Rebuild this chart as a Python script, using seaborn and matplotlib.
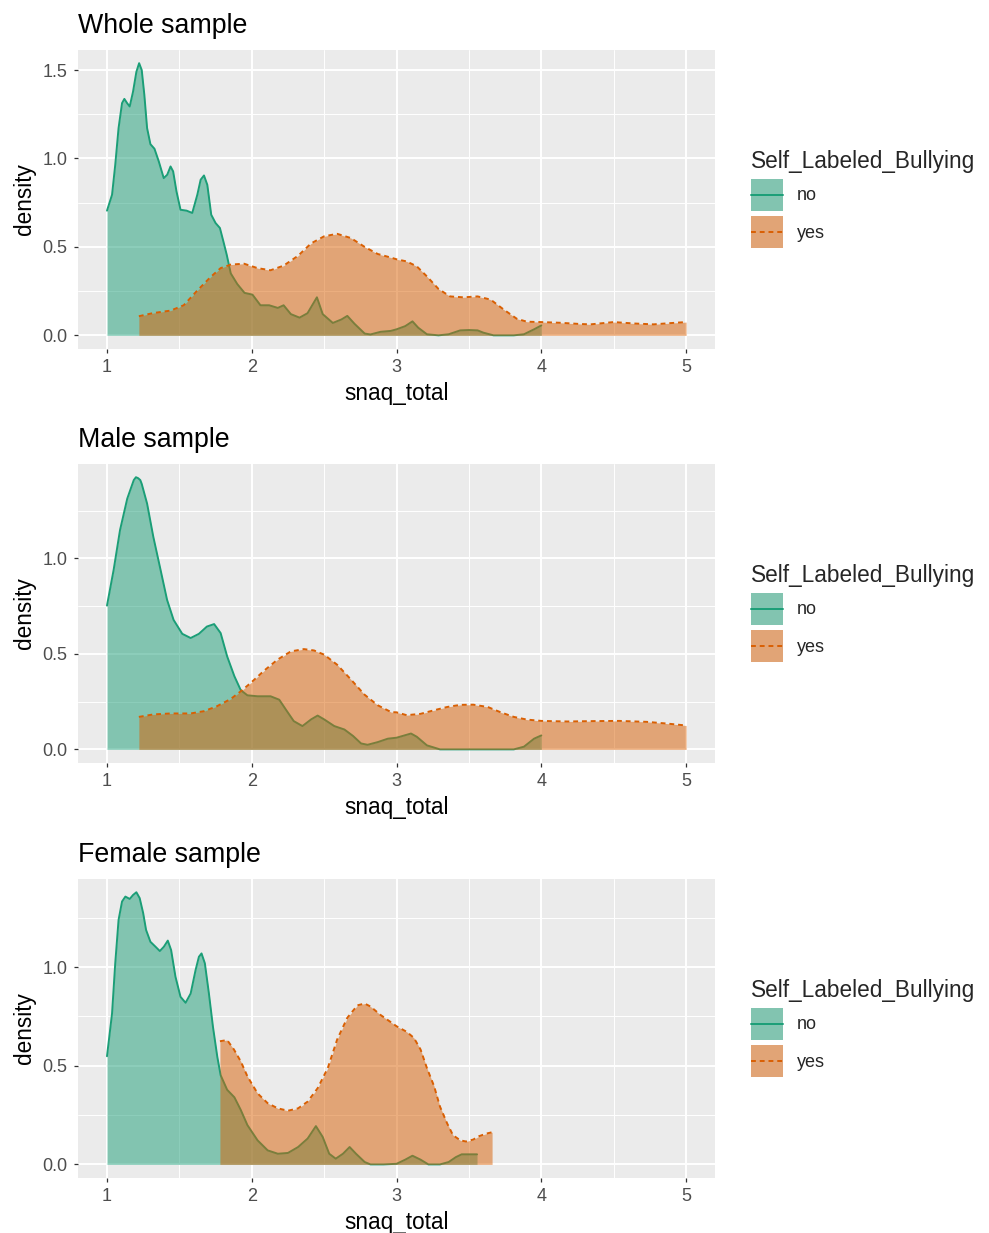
"""
Density of snaq_total by self-labeled bullying, three samples (ggplot look).
"""

import matplotlib
matplotlib.use('Agg')
import pandas as pd
import matplotlib.pyplot as plt
import seaborn as sns
from matplotlib.patches import Patch
from matplotlib.lines import Line2D
from matplotlib.legend_handler import HandlerLine2D
from matplotlib.ticker import MultipleLocator, FormatStrFormatter

# density curves
whole_no_x = [1.0, 1.035, 1.057, 1.08, 1.104, 1.12, 1.139, 1.157, 1.18, 1.203, 1.222, 1.24, 1.258, 1.277,
              1.30, 1.328, 1.358, 1.392, 1.416, 1.439, 1.457, 1.48, 1.508, 1.55, 1.589, 1.624, 1.647, 1.67,
              1.693, 1.72, 1.75, 1.78, 1.804, 1.827, 1.855, 1.90, 1.95, 2.005, 2.06, 2.12, 2.18, 2.22,
              2.27, 2.33, 2.385, 2.45, 2.49, 2.56, 2.62, 2.66, 2.71, 2.78, 2.82, 2.89, 2.96, 3.0,
              3.06, 3.11, 3.15, 3.21, 3.29, 3.36, 3.44, 3.50, 3.56, 3.60, 3.67, 3.81, 3.88, 3.95, 4.0]
whole_no_y = [0.705, 0.795, 0.964, 1.172, 1.313, 1.337, 1.313, 1.294, 1.378, 1.49, 1.539, 1.50, 1.36, 1.172,
              1.081, 1.055, 0.983, 0.889, 0.908, 0.955, 0.927, 0.814, 0.71, 0.705, 0.692, 0.795, 0.88, 0.904,
              0.851, 0.682, 0.635, 0.607, 0.531, 0.456, 0.35, 0.29, 0.24, 0.23, 0.17, 0.17, 0.155, 0.17,
              0.12, 0.10, 0.125, 0.215, 0.12, 0.07, 0.09, 0.11, 0.065, 0.01, 0.005, 0.02, 0.025, 0.034,
              0.052, 0.079, 0.043, 0.006, 0.0, 0.006, 0.028, 0.03, 0.028, 0.015, 0.0, 0.0, 0.006, 0.034, 0.056]
whole_yes_x = [1.22, 1.32, 1.44, 1.53, 1.62, 1.716, 1.785, 1.855, 1.947, 2.04, 2.13, 2.22, 2.32, 2.41,
               2.50, 2.59, 2.685, 2.78, 2.87, 2.96, 3.0, 3.07, 3.14, 3.21, 3.29, 3.37, 3.46, 3.56,
               3.65, 3.74, 3.83, 3.90, 4.0, 4.13, 4.27, 4.34, 4.50, 4.64, 4.775, 4.89, 5.0]
whole_yes_y = [0.108, 0.126, 0.14, 0.17, 0.25, 0.33, 0.38, 0.40, 0.405, 0.38, 0.368, 0.394, 0.45, 0.52,
               0.56, 0.574, 0.55, 0.50, 0.46, 0.44, 0.43, 0.418, 0.39, 0.333, 0.262, 0.22, 0.215, 0.22,
               0.202, 0.146, 0.094, 0.077, 0.075, 0.071, 0.064, 0.062, 0.075, 0.067, 0.062, 0.069, 0.075]

male_no_x = [1.0, 1.046, 1.09, 1.14, 1.185, 1.20, 1.215, 1.23, 1.24, 1.277, 1.32, 1.37, 1.415, 1.46,
             1.52, 1.578, 1.635, 1.69, 1.74, 1.785, 1.83, 1.88, 1.924, 1.97, 2.04, 2.13, 2.19, 2.235,
             2.29, 2.35, 2.41, 2.455, 2.50, 2.57, 2.64, 2.70, 2.755, 2.80, 2.87, 2.94, 3.0, 3.10,
             3.14, 3.21, 3.30, 3.53, 3.81, 3.88, 3.95, 4.0]
male_no_y = [0.753, 0.94, 1.148, 1.313, 1.41, 1.425, 1.42, 1.41, 1.39, 1.287, 1.113, 0.94, 0.783, 0.678,
             0.605, 0.583, 0.605, 0.643, 0.656, 0.609, 0.487, 0.383, 0.31, 0.283, 0.278, 0.278, 0.26, 0.209,
             0.148, 0.122, 0.157, 0.177, 0.157, 0.122, 0.104, 0.07, 0.031, 0.024, 0.038, 0.056, 0.061, 0.083,
             0.066, 0.021, 0.0, 0.0, 0.0, 0.014, 0.056, 0.073]
male_yes_x = [1.22, 1.32, 1.44, 1.578, 1.67, 1.76, 1.855, 1.924, 1.993, 2.085, 2.178, 2.27, 2.36, 2.43,
              2.50, 2.59, 2.686, 2.778, 2.87, 2.963, 3.0, 3.07, 3.166, 3.26, 3.35, 3.44, 3.53, 3.63,
              3.72, 3.81, 3.90, 4.0, 4.18, 4.36, 4.54, 4.73, 4.87, 5.0]
male_yes_y = [0.17, 0.183, 0.188, 0.188, 0.2, 0.226, 0.264, 0.304, 0.348, 0.412, 0.47, 0.513, 0.525, 0.518,
              0.496, 0.443, 0.365, 0.287, 0.231, 0.195, 0.194, 0.179, 0.186, 0.205, 0.222, 0.233, 0.234, 0.222,
              0.194, 0.17, 0.156, 0.149, 0.146, 0.148, 0.149, 0.144, 0.135, 0.125]

female_no_x = [1.0, 1.035, 1.057, 1.08, 1.104, 1.127, 1.157, 1.18, 1.203, 1.226, 1.25, 1.27, 1.30, 1.335,
               1.365, 1.393, 1.42, 1.443, 1.473, 1.508, 1.543, 1.578, 1.612, 1.635, 1.653, 1.676, 1.704, 1.732,
               1.762, 1.785, 1.83, 1.88, 1.924, 1.97, 2.04, 2.11, 2.18, 2.25, 2.32, 2.386, 2.443, 2.49,
               2.535, 2.58, 2.63, 2.676, 2.72, 2.78, 2.82, 2.91, 3.0, 3.06, 3.11, 3.166, 3.22, 3.30,
               3.36, 3.41, 3.45, 3.51, 3.556]
female_no_y = [0.548, 0.765, 1.019, 1.239, 1.332, 1.357, 1.345, 1.365, 1.379, 1.349, 1.273, 1.188, 1.128, 1.103,
               1.081, 1.103, 1.134, 1.086, 0.951, 0.849, 0.819, 0.866, 0.985, 1.052, 1.069, 1.019, 0.866, 0.697,
               0.545, 0.452, 0.378, 0.34, 0.276, 0.199, 0.122, 0.071, 0.054, 0.058, 0.088, 0.131, 0.194, 0.139,
               0.054, 0.029, 0.054, 0.088, 0.054, 0.012, 0.0, 0.0, 0.003, 0.024, 0.044, 0.024, 0.0, 0.0,
               0.012, 0.037, 0.051, 0.051, 0.051]
female_yes_x = [1.78, 1.83, 1.877, 1.924, 1.97, 2.04, 2.11, 2.18, 2.25, 2.32, 2.386, 2.455, 2.525, 2.59,
                2.66, 2.73, 2.78, 2.82, 2.89, 2.96, 3.0, 3.07, 3.12, 3.166, 3.21, 3.26, 3.30, 3.35,
                3.39, 3.44, 3.48, 3.53, 3.57, 3.62, 3.66]
female_yes_y = [0.624, 0.63, 0.582, 0.522, 0.446, 0.36, 0.31, 0.284, 0.272, 0.284, 0.318, 0.386, 0.488, 0.633,
                0.743, 0.806, 0.815, 0.80, 0.757, 0.721, 0.70, 0.672, 0.641, 0.582, 0.488, 0.395, 0.293, 0.207,
                0.148, 0.122, 0.116, 0.126, 0.143, 0.156, 0.163]

titles = ['Whole sample', 'Male sample', 'Female sample']
groups = ['no', 'yes']
palette = {'no': '#1B9E77', 'yes': '#D95F02'}
line_styles = {'no': '-', 'yes': (0, (2.5, 2))}

sns.set_theme(style='darkgrid', rc={
    'axes.facecolor': '#EBEBEB',
    'grid.color': 'white',
    'axes.edgecolor': '#EBEBEB',
})
plt.rcParams['font.family'] = ['Liberation Sans', 'DejaVu Sans']


class MidLine(HandlerLine2D):
    # keep the key line in the middle of the tall key box
    def create_artists(self, legend, orig_handle, xdescent, ydescent,
                       width, height, fontsize, trans):
        return super().create_artists(legend, orig_handle, xdescent, 2 * ydescent,
                                      width, height, fontsize, trans)


def draw_panel(ax, title, curves):
    """Fill and outline each group's density, ggplot geom_density style."""
    ymax = 0
    z = 2
    for g in groups:
        x, y = curves[g]
        df = pd.DataFrame({'snaq_total': x, 'density': y})
        ax.fill_between(df['snaq_total'], df['density'], color=palette[g],
                        alpha=0.5, lw=0, zorder=z)
        sns.lineplot(data=df, x='snaq_total', y='density', ax=ax, color=palette[g],
                     lw=1.4, linestyle=line_styles[g], sort=False, estimator=None,
                     solid_joinstyle='round', zorder=z + 1)
        ymax = max(ymax, df['density'].max())
        z += 2

    ax.set_xlim(0.8, 5.2)
    ax.set_ylim(-0.05 * ymax, 1.05 * ymax)
    ax.xaxis.set_major_locator(MultipleLocator(1))
    ax.xaxis.set_minor_locator(MultipleLocator(0.5))
    ax.yaxis.set_major_locator(MultipleLocator(0.5))
    ax.yaxis.set_minor_locator(MultipleLocator(0.25))
    ax.yaxis.set_major_formatter(FormatStrFormatter('%.1f'))
    ax.grid(which='major', color='white', lw=1.4)
    ax.grid(which='minor', color='white', lw=0.7)
    for s in ax.spines.values():
        s.set_visible(False)
    ax.tick_params(which='major', length=3, width=0.9, color='#333333',
                   labelcolor='#4D4D4D', labelsize=13, pad=4.5,
                   bottom=True, left=True)
    ax.tick_params(which='minor', length=0)
    ax.set_xlabel('snaq_total', fontsize=16.3, color='black', labelpad=4)
    ax.set_ylabel('density', fontsize=16.3, color='black', labelpad=5)
    ax.set_title(title, loc='left', fontsize=19.3, color='black', pad=12)

    handles = []
    for g in groups:
        handles.append((Patch(facecolor='#EBEBEB', edgecolor='none'),
                        Patch(facecolor=palette[g], alpha=0.5, edgecolor='none'),
                        Line2D([], [], color=palette[g], lw=1.4, linestyle=line_styles[g])))
    ax.legend(handles, groups, title='Self_Labeled_Bullying', loc='center left',
              bbox_to_anchor=(1.042, 0.5), frameon=False, fontsize=13,
              title_fontsize=16.3, handlelength=1.78, handleheight=2.36,
              labelspacing=0.3, handletextpad=0.75, borderpad=0,
              alignment='left', handler_map={Line2D: MidLine()})


all_curves = [
    {'no': (whole_no_x, whole_no_y), 'yes': (whole_yes_x, whole_yes_y)},
    {'no': (male_no_x, male_no_y), 'yes': (male_yes_x, male_yes_y)},
    {'no': (female_no_x, female_no_y), 'yes': (female_yes_x, female_yes_y)},
]

fig = plt.figure(figsize=(9.89, 12.33), dpi=100)
fig.patch.set_facecolor('white')
bottoms = [0.7170, 0.3812, 0.0446]
for title, curves, b in zip(titles, all_curves, bottoms):
    ax = fig.add_axes([0.0789, b, 0.6441, 0.2428])
    draw_panel(ax, title, curves)

fig.savefig('out.png', dpi=100)
